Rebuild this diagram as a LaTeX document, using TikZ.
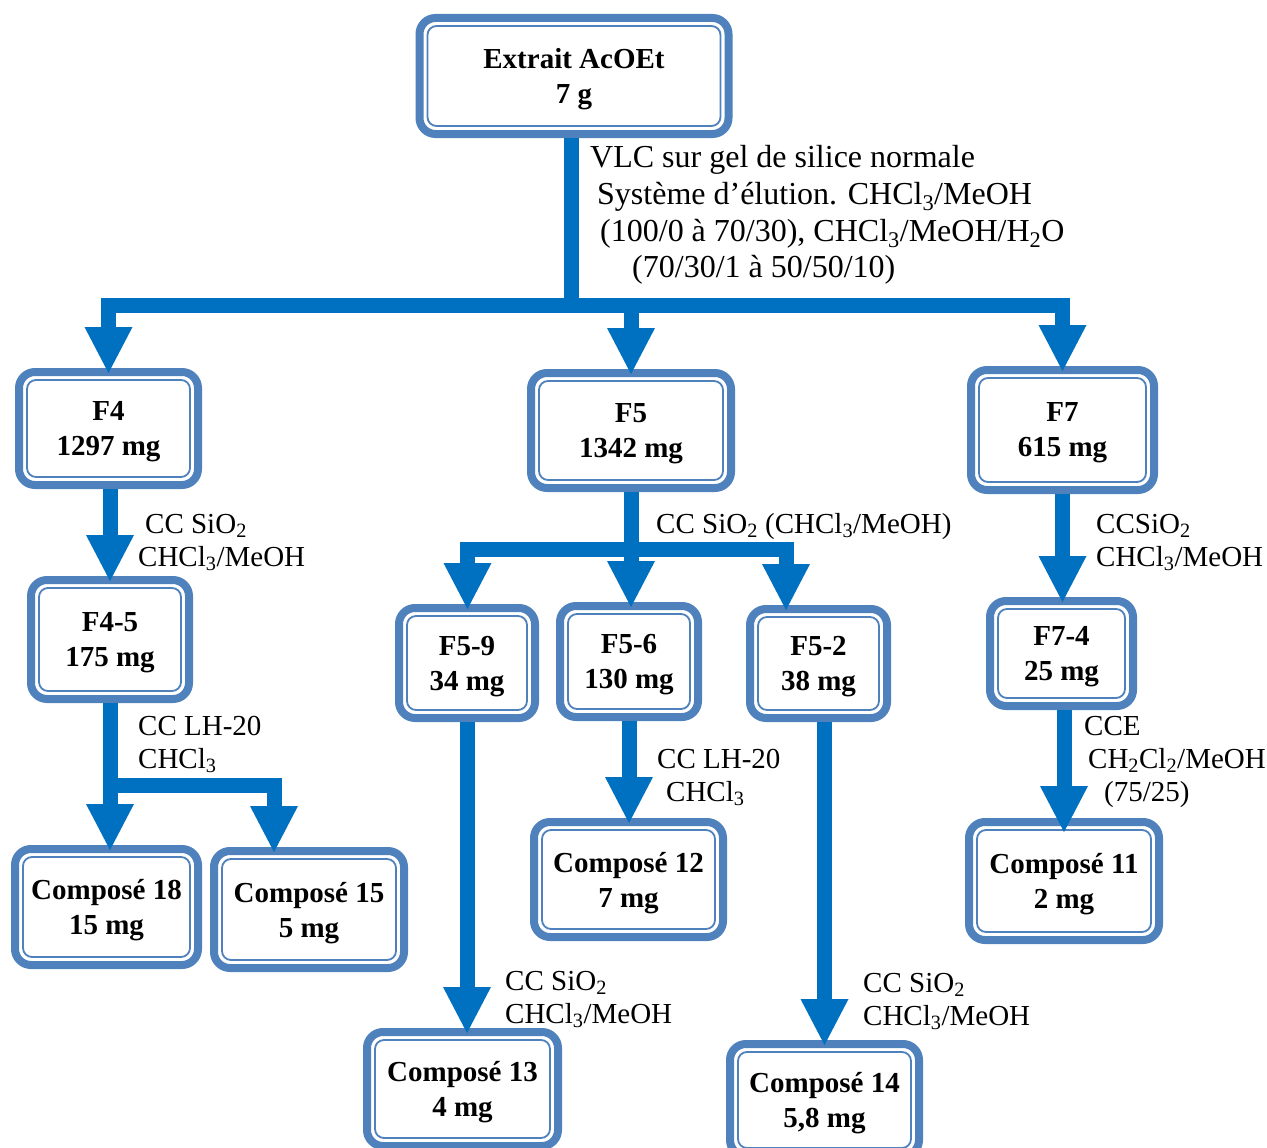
\documentclass[tikz,border=0pt]{standalone}
\usepackage{fontspec}
\setmainfont{Liberation Serif}
\usetikzlibrary{arrows.meta,calc}
\definecolor{boxblue}{RGB}{79,129,189}
\definecolor{flowblue}{RGB}{0,112,192}
\newcommand\sbs[1]{\textsubscript{#1}}

\begin{document}
\begin{tikzpicture}[x=1pt,y=-1pt,
  fbox/.style={draw=boxblue, line width=8pt, rounded corners=16pt, fill=white,
    inner sep=0pt, align=center, text depth=0pt,
    font=\fontsize{29}{35}\selectfont\bfseries,
    path picture={\draw[boxblue, line width=1.8pt, rounded corners=9pt]
      ([shift={(8pt,8pt)}]path picture bounding box.south west) rectangle
      ([shift={(-8pt,-8pt)}]path picture bounding box.north east);}},
  flow/.style={draw=flowblue, line width=15pt, line join=miter,
    -{Triangle[width=48pt,length=46pt,line width=0pt]}},
  lbl/.style={inner sep=0pt, anchor=base west, font=\fontsize{29}{33}\selectfont},
]
\useasboundingbox (0,0) rectangle (1267,1148);
\fill[white] (0,0) rectangle (1267,1148);
\clip (0,0) rectangle (1267,1148);

% boxes
\node[fbox, minimum width=309pt, minimum height=116pt] (top) at (574,76) {Extrait AcOEt\\7 g};
\node[fbox, minimum width=179pt, minimum height=113pt] (F4) at (108.5,428.5) {F4\\1297 mg};
\node[fbox, minimum width=200pt, minimum height=115pt] (F5) at (631,430.5) {F5\\1342 mg};
\node[fbox, minimum width=183pt, minimum height=120pt] (F7) at (1062.5,430) {F7\\615 mg};
\node[fbox, minimum width=158pt, minimum height=119pt] (F45) at (110,639.5) {F4-5\\175 mg};
\node[fbox, minimum width=136pt, minimum height=110pt] (F59) at (467,663) {F5-9\\34 mg};
\node[fbox, minimum width=138pt, minimum height=111pt] (F56) at (629,661.5) {F5-6\\130 mg};
\node[fbox, minimum width=137pt, minimum height=109pt] (F52) at (818.5,663.5) {F5-2\\38 mg};
\node[fbox, minimum width=143pt, minimum height=105pt] (F74) at (1061.5,653.5) {F7-4\\25 mg};
\node[fbox, minimum width=183pt, minimum height=116pt] (c18) at (106.5,907) {Composé 18\\15 mg};
\node[fbox, minimum width=190pt, minimum height=117pt] (c15) at (309,909.5) {Composé 15\\5 mg};
\node[fbox, minimum width=191pt, minimum height=114pt] (c13) at (462.5,1089) {Composé 13\\4 mg};
\node[fbox, minimum width=189pt, minimum height=115pt] (c12) at (628.5,879.5) {Composé 12\\7 mg};
\node[fbox, minimum width=189pt, minimum height=112pt] (c14) at (824.5,1100) {Composé 14\\5,8 mg};
\node[fbox, minimum width=190pt, minimum height=118pt] (c11) at (1064,881) {Composé 11\\2 mg};

% junction points of the branching connectors
\coordinate (j0) at (571,305);
\coordinate (j1) at (110,785);
\coordinate (j1r) at (274,785);
\coordinate (j2) at (631,549);
\coordinate (j2l) at (467.5,549);
\coordinate (j2r) at (786,549);

% first split
\draw[flow] (top.south -| j0) -- (j0) -| ($(F4.north)+(0,5)$);
\draw[flow] (top.south -| j0) -- (j0) -| ($(F5.north)+(0,5)$);
\draw[flow] (top.south -| j0) -- (j0) -| ($(F7.north)+(0,5)$);

% F4 branch
\draw[flow] (F45.north |- F4.south) -- ($(F45.north)+(0,5)$);
\draw[flow] (F45.south) -- (j1) -- ($(j1 |- c18.north)+(0,5)$);
\draw[flow] (F45.south) -- (j1) -- (j1r) -- ($(j1r |- c15.north)+(0,5)$);

% F5 branch
\draw[flow] (F5.south) -- (j2) -- (j2l) -- ($(j2l |- F59.north)+(0,5)$);
\draw[flow] (F5.south) -- (j2) -- ($(j2 |- F56.north)+(0,5)$);
\draw[flow] (F5.south) -- (j2) -- (j2r) -- ($(j2r |- F52.north)+(0,5)$);
\draw[flow] (F59.south) -- ($(F59.south |- c13.north)+(0,5)$);
\draw[flow] (F56.south) -- ($(F56.south |- c12.north)+(0,5)$);
\draw[flow] (c14.north |- F52.south) -- ($(c14.north)+(0,5)$);

% F7 branch
\draw[flow] (F7.south) -- ($(F7.south |- F74.north)+(0,5)$);
\draw[flow] (c11.north |- F74.south) -- ($(c11.north)+(0,14)$);

% labels
\node[lbl] (l0) at (590,167) {\fontsize{32}{37}\selectfont\begin{tabular}[t]{@{}l@{}}
  VLC sur gel de silice normale\\
  \hspace*{7pt}Système d’élution. CHCl\sbs{3}/MeOH\\
  \hspace*{10pt}(100/0 à 70/30), CHCl\sbs{3}/MeOH/H\sbs{2}O\\
  \hspace*{42pt}(70/30/1 à 50/50/10)\end{tabular}};
\node[lbl] (l1) at (138,533) {\begin{tabular}[t]{@{}l@{}}\hspace*{7pt}CC SiO\sbs{2}\\CHCl\sbs{3}/MeOH\end{tabular}};
\node[lbl] (l2) at (138,735) {\begin{tabular}[t]{@{}l@{}}CC LH-20\\CHCl\sbs{3}\end{tabular}};
\node[lbl] (l3) at (656,533) {CC SiO\sbs{2} (CHCl\sbs{3}/MeOH)};
\node[lbl] (l4) at (1096,533) {\begin{tabular}[t]{@{}l@{}}CCSiO\sbs{2}\\CHCl\sbs{3}/MeOH\end{tabular}};
\node[lbl] (l5) at (1084,735) {\begin{tabular}[t]{@{}l@{}}CCE\\\hspace*{4pt}CH\sbs{2}Cl\sbs{2}/MeOH\\\hspace*{20pt}(75/25)\end{tabular}};
\node[lbl] (l6) at (657,768) {\begin{tabular}[t]{@{}l@{}}CC LH-20\\\hspace*{9pt}CHCl\sbs{3}\end{tabular}};
\node[lbl] (l7) at (505,990) {\begin{tabular}[t]{@{}l@{}}CC SiO\sbs{2}\\CHCl\sbs{3}/MeOH\end{tabular}};
\node[lbl] (l8) at (863,992) {\begin{tabular}[t]{@{}l@{}}CC SiO\sbs{2}\\CHCl\sbs{3}/MeOH\end{tabular}};
\end{tikzpicture}
\end{document}
